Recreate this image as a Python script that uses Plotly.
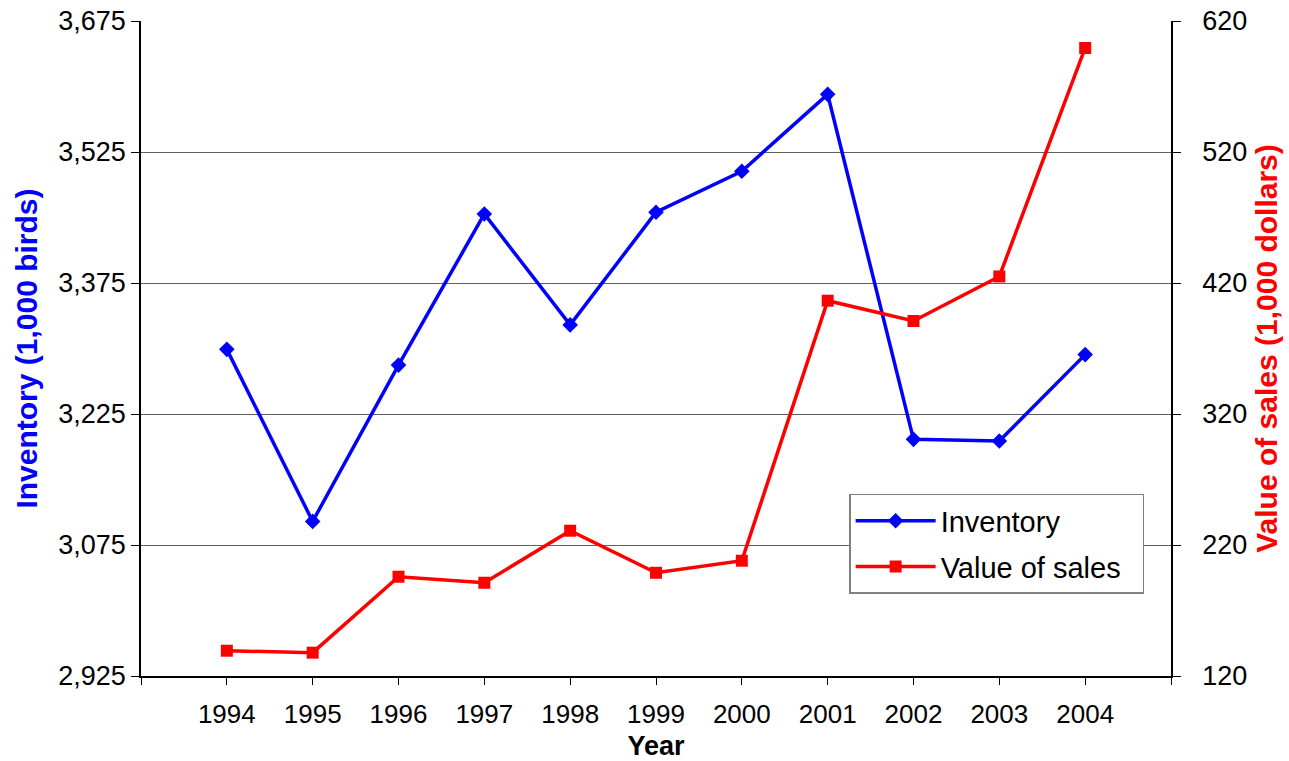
import plotly.graph_objects as go

years = ["1994", "1995", "1996", "1997", "1998", "1999", "2000", "2001", "2002", "2003", "2004"]
inventory = [3299, 3102, 3281, 3454, 3327, 3456, 3503, 3591, 3196, 3194, 3293]
sales = [139.3, 137.8, 195.8, 191.2, 230.9, 198.8, 208.0, 406.5, 391.0, 425.0, 599.4]

idx = list(range(len(years)))
FONT = "Liberation Sans, Arial, sans-serif"

fig = go.Figure()
fig.add_trace(go.Scatter(
    x=idx, y=inventory, name="Inventory", mode="lines+markers",
    legendgroup="a",
    line=dict(color="#0000FF", width=3.5),
    marker=dict(symbol="diamond", size=12, color="#0000FF"),
    yaxis="y", xaxis="x"))
fig.add_trace(go.Scatter(
    x=idx, y=sales, name="Value of sales\u00a0\u00a0", mode="lines+markers",
    legendgroup="b",
    line=dict(color="#FF0000", width=3.5),
    marker=dict(symbol="square", size=12, color="#FF0000"),
    yaxis="y2", xaxis="x"))

tickvals_x = [-1] + idx + [len(years)]
ticktext_x = [""] + years + [""]

fig.update_layout(
    width=1289, height=761,
    margin=dict(l=141, r=118, t=21, b=85),
    paper_bgcolor="white", plot_bgcolor="white",
    font=dict(family=FONT, size=27, color="black"),
    showlegend=True,
    legend=dict(x=0.6875, y=0.278, xanchor="left", yanchor="top",
                bgcolor="white", bordercolor="#808080", borderwidth=1.5,
                font=dict(family=FONT, size=29), itemwidth=80,
                tracegroupgap=5),
    xaxis=dict(range=[-1, len(years)], tickmode="array", tickvals=tickvals_x,
               ticktext=ticktext_x, ticks="outside", ticklen=7, tickwidth=1.2,
               tickcolor="black", showline=True, linecolor="black", linewidth=1.5,
               showgrid=False, zeroline=False, automargin=False,
               ticklabelstandoff=7,
               title=dict(text="<b>Year</b>", font=dict(size=27), standoff=12),
               tickfont=dict(size=26)),
    xaxis2=dict(range=[-1, len(years)], overlaying="x", anchor="y", side="bottom",
                tickmode="array", tickvals=tickvals_x, ticks="inside", ticklen=7,
                tickwidth=1.2, tickcolor="black", showticklabels=False,
                showline=False, showgrid=False, zeroline=False, automargin=False),
    xaxis3=dict(range=[-1, len(years)], overlaying="x", anchor="y", side="top",
                showticklabels=False, ticks="", showline=True, linecolor="#505050",
                linewidth=1.2, showgrid=False, zeroline=False, automargin=False),
    yaxis=dict(range=[2925, 3675], tick0=2925, dtick=150, tickformat=",",
               ticks="outside", ticklen=8, tickcolor="black", tickwidth=1.2,
               showline=True, linecolor="black", linewidth=1.5, automargin=False,
               ticklabeloverflow="allow",
               showgrid=True, gridcolor="#606060", gridwidth=1, zeroline=False,
               title=dict(text="<b>Inventory (1,000 birds)</b>",
                          font=dict(size=30, color="#0000FF"), standoff=12),
               tickfont=dict(size=27)),
    yaxis2=dict(range=[120, 620], tick0=120, dtick=100, overlaying="y", side="right",
                anchor="x", ticks="outside", ticklen=8, tickcolor="black", tickwidth=1.2,
                showline=True, linecolor="black", linewidth=1.5, automargin=False,
                ticklabeloverflow="allow",
                showgrid=False, zeroline=False, ticklabelstandoff=16,
                title=dict(text="<b>Value of sales (1,000 dollars)</b>",
                           font=dict(size=30, color="#FF0000"), standoff=10),
                tickfont=dict(size=27)),
)

fig.write_html("out.html",
               config={"displayModeBar": False},
               post_script="document.body.style.margin='0';document.body.style.overflow='hidden';")
